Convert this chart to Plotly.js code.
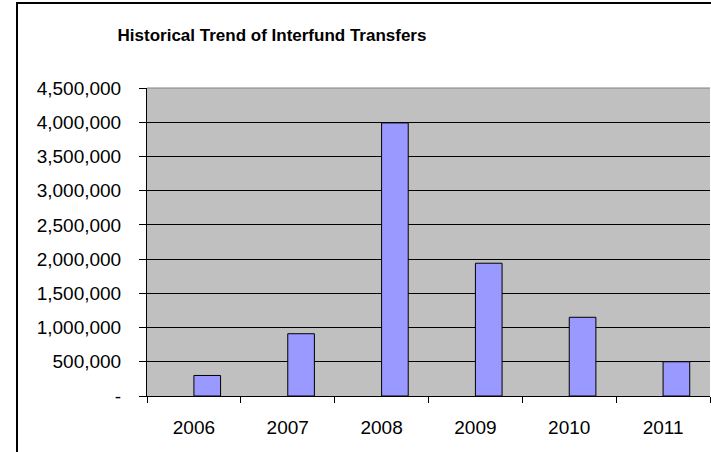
<!DOCTYPE html>
<html>
<head>
<meta charset="utf-8">
<script src="https://cdn.plot.ly/plotly-3.0.1.min.js"></script>
<style>
  html, body { margin: 0; padding: 0; background: #fff; overflow: hidden; }
  #chart { width: 711px; height: 452px; position: absolute; left: 0; top: 0; }
  #frame { position: absolute; left: 16px; top: 2px; width: 760px; height: 520px;
           border-left: 2px solid #000; border-top: 2px solid #000; pointer-events: none; }
</style>
</head>
<body>
<div id="chart"></div>
<div id="frame"></div>
<script>
const years = ["2006", "2007", "2008", "2009", "2010", "2011"];
const transfers = [300000, 910000, 3990000, 1940000, 1150000, 500000];
const yTickVals = [0, 500000, 1000000, 1500000, 2000000, 2500000, 3000000, 3500000, 4000000, 4500000];
const yTickText = ["-", "500,000", "1,000,000", "1,500,000", "2,000,000", "2,500,000", "3,000,000", "3,500,000", "4,000,000", "4,500,000"];

const trace = {
  type: "bar",
  x: years,
  y: transfers,
  width: 0.284,
  offset: 0,
  marker: { color: "#9999FF", line: { color: "#000000", width: 1 } },
  hoverinfo: "x+y"
};

const layout = {
  width: 711,
  height: 452,
  margin: { l: 147, r: 1, t: 88, b: 56, pad: 0 },
  paper_bgcolor: "#FFFFFF",
  plot_bgcolor: "#C0C0C0",
  showlegend: false,
  font: { family: "Liberation Sans, Arial, sans-serif", color: "#000" },
  title: {
    text: "<b>Historical Trend of Interfund Transfers</b>",
    font: { size: 17, family: "Liberation Sans, Arial, sans-serif", color: "#000" },
    xref: "container", yref: "container",
    x: 272 / 711, xanchor: "center",
    y: 1 - 35 / 452, yanchor: "middle"
  },
  xaxis: {
    type: "category",
    range: [-0.5, 5.5],
    showgrid: false,
    showline: true, linecolor: "#000", linewidth: 1,
    ticks: "outside", ticklen: 6, tickcolor: "#000", tickwidth: 1,
    tickson: "boundaries",
    ticklabelstandoff: 14,
    tickfont: { size: 19, color: "#000" },
    zeroline: false,
    fixedrange: true
  },
  yaxis: {
    range: [0, 4500000],
    tickmode: "array",
    tickvals: yTickVals,
    ticktext: yTickText,
    showgrid: true, gridcolor: "#000", gridwidth: 1,
    showline: true, linecolor: "#000", linewidth: 1,
    ticks: "outside", ticklen: 7, tickcolor: "#000", tickwidth: 1,
    ticklabelstandoff: 14,
    tickfont: { size: 19, color: "#000" },
    zeroline: false,
    fixedrange: true
  },
  shapes: [
    { type: "line", xref: "paper", yref: "paper", x0: 0, x1: 1, y0: 1, y1: 1,
      line: { color: "#808080", width: 1 } }
  ]
};

Plotly.newPlot("chart", [trace], layout, { displayModeBar: false, staticPlot: true });
</script>
</body>
</html>
